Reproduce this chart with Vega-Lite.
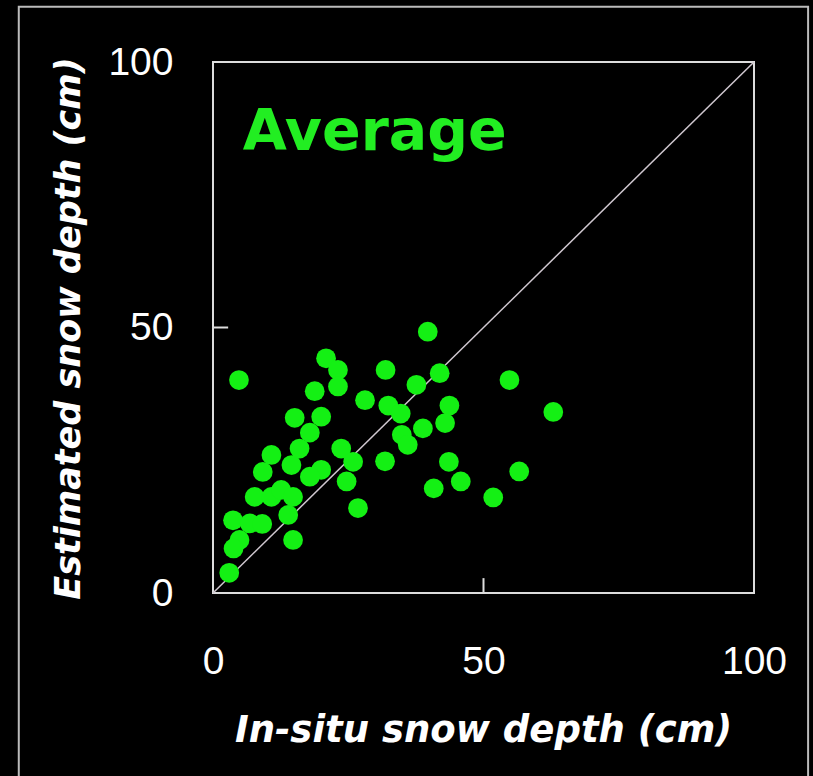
{
  "$schema": "https://vega.github.io/schema/vega-lite/v6.json",
  "width": 541,
  "height": 531,
  "autosize": {"type": "none"},
  "padding": {"left": 213, "top": 62, "right": 59, "bottom": 183},
  "background": "#000000",
  "config": {
    "view": {"stroke": "#dddddd", "strokeWidth": 2},
    "axis": {"grid": false, "ticks": false, "domain": false}
  },
  "datasets": {
    "pts": [
      {"insitu": 4.8, "est": 40.1}, {"insitu": 20.9, "est": 44.2}, {"insitu": 23.1, "est": 42.0},
      {"insitu": 23.1, "est": 38.9}, {"insitu": 18.8, "est": 38.0}, {"insitu": 28.1, "est": 36.3},
      {"insitu": 15.1, "est": 33.0}, {"insitu": 20.0, "est": 33.2}, {"insitu": 17.9, "est": 30.2},
      {"insitu": 3.0, "est": 3.8}, {"insitu": 3.7, "est": 13.7}, {"insitu": 4.9, "est": 10.0},
      {"insitu": 3.8, "est": 8.4}, {"insitu": 6.8, "est": 13.1}, {"insitu": 9.1, "est": 13.0},
      {"insitu": 7.7, "est": 18.1}, {"insitu": 10.8, "est": 18.1}, {"insitu": 12.6, "est": 19.4},
      {"insitu": 14.8, "est": 18.1}, {"insitu": 13.9, "est": 14.7}, {"insitu": 14.8, "est": 10.0},
      {"insitu": 10.8, "est": 26.0}, {"insitu": 9.2, "est": 22.8}, {"insitu": 14.5, "est": 24.1},
      {"insitu": 16.0, "est": 27.2}, {"insitu": 23.7, "est": 27.2}, {"insitu": 25.9, "est": 24.7},
      {"insitu": 20.0, "est": 23.2}, {"insitu": 17.9, "est": 21.9}, {"insitu": 24.7, "est": 21.0},
      {"insitu": 26.8, "est": 16.0},
      {"insitu": 39.7, "est": 49.2}, {"insitu": 31.9, "est": 42.0}, {"insitu": 41.9, "est": 41.4},
      {"insitu": 54.8, "est": 40.1}, {"insitu": 37.6, "est": 39.2}, {"insitu": 32.4, "est": 35.3},
      {"insitu": 34.7, "est": 33.8}, {"insitu": 43.7, "est": 35.3}, {"insitu": 42.9, "est": 32.0},
      {"insitu": 38.8, "est": 31.0}, {"insitu": 34.9, "est": 29.8}, {"insitu": 36.0, "est": 27.9},
      {"insitu": 31.8, "est": 24.8}, {"insitu": 43.6, "est": 24.7}, {"insitu": 45.8, "est": 21.0},
      {"insitu": 40.8, "est": 19.7}, {"insitu": 51.8, "est": 18.0}, {"insitu": 56.6, "est": 22.9},
      {"insitu": 62.9, "est": 34.1}
    ]
  },
  "encoding": {
    "x": {
      "field": "insitu", "type": "quantitative",
      "scale": {"domain": [0, 100], "nice": false},
      "axis": {
        "values": [0, 50, 100], "labelFlush": false, "labelOverlap": false,
        "labelFont": "Liberation Sans", "labelFontSize": 39, "labelColor": "#ffffff",
        "labelPadding": 49,
        "title": "In-situ snow depth (cm)", "titleFont": "DejaVu Sans", "titleFontSize": 37,
        "titleFontWeight": "bold", "titleFontStyle": "italic", "titleColor": "#ffffff",
        "titleBaseline": "middle", "titleX": 270, "titleY": 137
      }
    },
    "y": {
      "field": "est", "type": "quantitative",
      "scale": {"domain": [0, 100], "nice": false},
      "axis": {
        "values": [0, 50, 100], "labelFlush": false, "labelOverlap": false,
        "labelFont": "Liberation Sans", "labelFontSize": 39, "labelColor": "#ffffff",
        "labelPadding": 40,
        "title": "Estimated snow depth (cm)", "titleFont": "DejaVu Sans", "titleFontSize": 35,
        "titleFontWeight": "bold", "titleFontStyle": "italic", "titleColor": "#ffffff",
        "titleBaseline": "middle", "titleAngle": -90, "titleX": -145, "titleY": 266
      }
    }
  },
  "layer": [
    {
      "data": {"values": [{"insitu": -35.9, "x2": 110.0, "est": -35, "y2": 110.4}]},
      "mark": {"type": "rect", "fill": null, "filled": false, "stroke": "#bbbbbb", "strokeWidth": 2, "clip": false},
      "encoding": {"x2": {"field": "x2"}, "y2": {"field": "y2"}}
    },
    {
      "data": {"values": [{"insitu": 0, "est": 0, "x2": 100, "y2": 100}]},
      "mark": {"type": "rule", "stroke": "#d0c8d0", "strokeWidth": 1.5},
      "encoding": {"x2": {"field": "x2"}, "y2": {"field": "y2"}}
    },
    {
      "data": {"values": [{"insitu": 50, "est": 0, "x2": 50, "y2": 2.8}, {"insitu": 0, "est": 50, "x2": 2.8, "y2": 50}]},
      "mark": {"type": "rule", "stroke": "#dddddd", "strokeWidth": 2},
      "encoding": {"x2": {"field": "x2"}, "y2": {"field": "y2"}}
    },
    {
      "data": {"name": "pts"},
      "mark": {"type": "circle", "size": 390, "color": "#14f014", "opacity": 1}
    },
    {
      "data": {"values": [{"insitu": 5.5, "est": 83.4, "label": "Average"}]},
      "mark": {"type": "text", "align": "left", "baseline": "alphabetic", "font": "DejaVu Sans", "fontWeight": "bold", "fontSize": 57, "color": "#22ee22"},
      "encoding": {"text": {"field": "label"}}
    }
  ]
}
